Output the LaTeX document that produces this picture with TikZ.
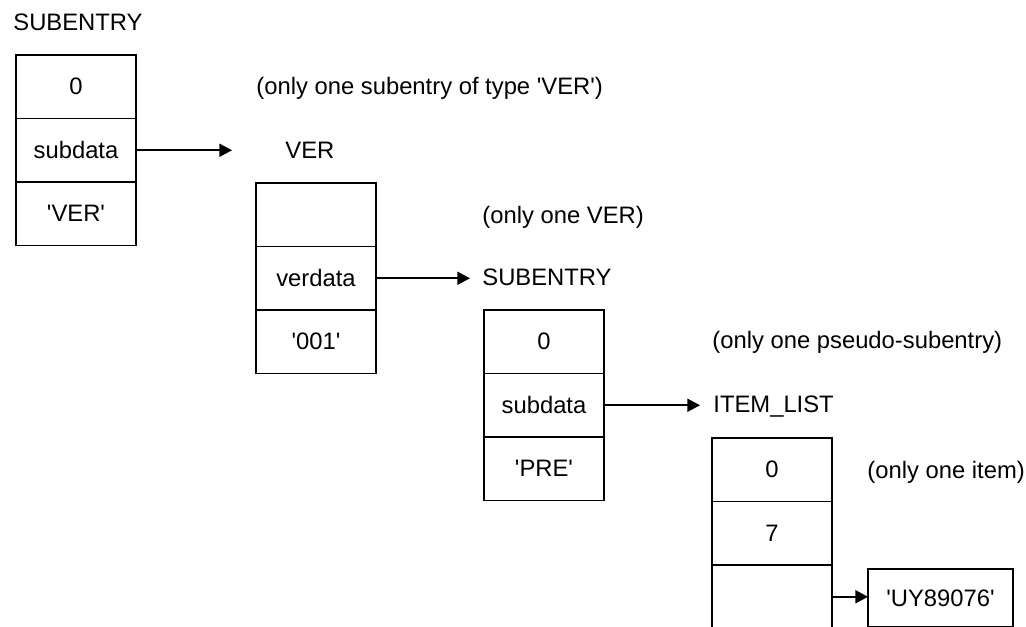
\documentclass[tikz,border=0pt]{standalone}
\usepackage{fontspec}
\setmainfont{Liberation Sans}
\usepackage{tikz}
\usetikzlibrary{arrows.meta, positioning}
\newcommand{\apos}{\textquotesingle}

\begin{document}
\begin{tikzpicture}[x=0.5pt, y=-0.5pt,
    font=\fontsize{11.9}{14}\selectfont,
    cell/.style={draw, line width=0.85pt, minimum width=60pt,
                 minimum height=31.75pt, inner sep=0pt, outer sep=0pt},
    lbl/.style={anchor=base west, inner sep=0pt},
    ptr/.style={line width=0.85pt, -{Triangle[length=6.3pt, width=6.5pt]}}]
  \useasboundingbox (0,0) rectangle (1026,626);
  \clip (0,0) rectangle (1026,626);

  % SUBENTRY
  \node[lbl] (toplbl) at (13,31) {SUBENTRY};
  \node[cell] (s1zero) at (76,86.75) {0};
  \node[cell, below=0pt of s1zero] (s1data) {subdata};
  \node[cell, below=0pt of s1data] (s1type) {\apos VER\apos};
  \node[lbl] (note1) at (256,95) {(only one subentry of type \apos VER\apos)};

  % VER
  \node[lbl] (verlbl) at (285,158) {VER};
  \node[cell] (vblank) at (316,214.75) {};
  \node[cell, below=0pt of vblank] (vdata) {verdata};
  \node[cell, below=0pt of vdata] (vnum) {\apos 001\apos};
  \node[lbl] (note2) at (482,223) {(only one VER)};

  % pseudo-subentry
  \node[lbl] (sublbl) at (482,285) {SUBENTRY};
  \node[cell] (s2zero) at (544,341.75) {0};
  \node[cell, below=0pt of s2zero] (s2data) {subdata};
  \node[cell, below=0pt of s2data] (s2type) {\apos PRE\apos};
  \node[lbl] (note3) at (712,348) {(only one pseudo-subentry)};

  % ITEM_LIST
  \node[lbl] (listlbl) at (713,412) {ITEM\_LIST};
  \node[cell] (izero) at (772,469.75) {0};
  \node[cell, below=0pt of izero] (icount) {7};
  \node[cell, below=0pt of icount] (iptr) {};
  \node[lbl] (note4) at (867,478) {(only one item)};
  \node[draw, line width=0.85pt, minimum width=72.5pt, minimum height=29pt,
        inner sep=0pt, outer sep=0pt] (item) at (940.5,598) {\apos UY89076\apos};

  % Pointers
  \coordinate (verin) at (232,0);
  \coordinate (subin) at (470,0);
  \coordinate (listin) at (700,0);
  \draw[ptr] (s1data.east) -- (s1data.east -| verin);
  \draw[ptr] (vdata.east) -- (vdata.east -| subin);
  \draw[ptr] (s2data.east) -- (s2data.east -| listin);
  \draw[ptr] (iptr.east) -- (iptr.east -| item.west);
\end{tikzpicture}
\end{document}
